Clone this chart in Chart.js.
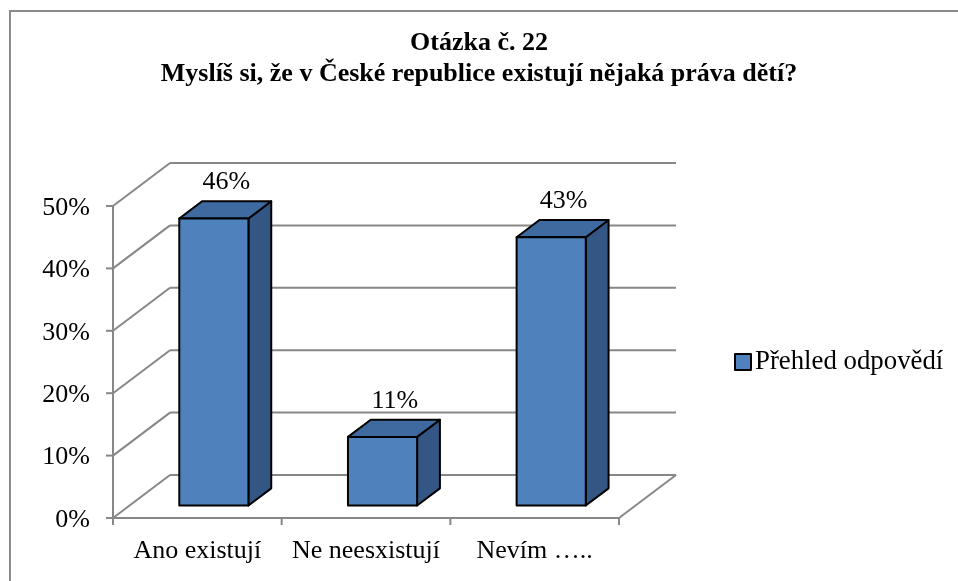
<!DOCTYPE html>
<html>
<head>
<meta charset="utf-8">
<script src="https://cdn.jsdelivr.net/npm/chart.js@4.4.1/dist/chart.umd.min.js"></script>
<style>
  html, body { margin: 0; padding: 0; background: #fff; }
  canvas { display: block; }
</style>
</head>
<body>
<canvas id="chart" width="958" height="581"></canvas>
<script>
var categories = ['Ano existují', 'Ne neesxistují', 'Nevím …..'];
var values = [46, 11, 43];
var seriesName = 'Přehled odpovědí';
var yTicks = [0, 10, 20, 30, 40, 50];
var titleLines = ['Otázka č. 22', 'Myslíš si, že v České republice existují nějaká práva dětí?'];

var FONT = "'Liberation Serif', 'Times New Roman', serif";
var GRID = '#878787';
var DEPTH_X = 57, DEPTH_Y = 43;      // depth of the floor, in px
var BAR_FRONT = 0.29, BAR_DEPTH = 0.4; // bar position inside the depth
var FRONT = '#4f81bd', TOP = '#3e6a9f', SIDE = '#335684';

function line(ctx, x1, y1, x2, y2) {
  ctx.beginPath();
  ctx.moveTo(x1, y1);
  ctx.lineTo(x2, y2);
  ctx.stroke();
}

function poly(ctx, pts) {
  ctx.beginPath();
  ctx.moveTo(pts[0][0], pts[0][1]);
  for (var i = 1; i < pts.length; i++) ctx.lineTo(pts[i][0], pts[i][1]);
  ctx.closePath();
  ctx.fill();
  ctx.stroke();
}

var box3d = {
  id: 'box3d',
  beforeDraw: function (chart) {
    var ctx = chart.ctx;
    ctx.save();
    ctx.strokeStyle = '#8a8a8a';
    ctx.lineWidth = 2;
    line(ctx, 10, 11, 10, chart.height + 5);
    line(ctx, 9, 11, chart.width + 5, 11);
    ctx.restore();
  },
  beforeDatasetsDraw: function (chart) {
    var ctx = chart.ctx, xs = chart.scales.x, ys = chart.scales.y;
    var L = chart.chartArea.left, R = chart.chartArea.right;
    var y0 = ys.getPixelForValue(0);
    ctx.save();
    ctx.strokeStyle = GRID;
    ctx.lineWidth = 2;
    yTicks.forEach(function (v) {
      var y = ys.getPixelForValue(v);
      line(ctx, L, y, L + DEPTH_X, y - DEPTH_Y);
      line(ctx, L + DEPTH_X, y - DEPTH_Y, R + DEPTH_X, y - DEPTH_Y);
      line(ctx, L - 7, y, L, y);
    });
    line(ctx, L, y0 + 1, L, ys.getPixelForValue(yTicks[yTicks.length - 1]) - 1);
    line(ctx, L, y0, R, y0);
    line(ctx, R, y0, R + DEPTH_X, y0 - DEPTH_Y);
    var n = categories.length;
    for (var i = 0; i <= n; i++) {
      var x = i === 0 ? L : (i === n ? R : (xs.getPixelForValue(i - 1) + xs.getPixelForValue(i)) / 2);
      line(ctx, x, y0, x, y0 + 7);
    }
    ctx.restore();
  },
  afterDatasetsDraw: function (chart) {
    var ctx = chart.ctx;
    var meta = chart.getDatasetMeta(0);
    var ox = BAR_FRONT * DEPTH_X, oy = BAR_FRONT * DEPTH_Y;
    var dx = BAR_DEPTH * DEPTH_X, dy = BAR_DEPTH * DEPTH_Y;
    ctx.save();
    ctx.strokeStyle = '#000';
    ctx.lineWidth = 2;
    ctx.lineJoin = 'round';
    meta.data.forEach(function (el, i) {
      var p = el.getProps(['x', 'y', 'base', 'width'], true);
      var x0 = p.x - p.width / 2 + ox, x1 = x0 + p.width;
      var top = p.y - oy, bot = p.base - oy;
      ctx.fillStyle = SIDE;
      poly(ctx, [[x1, top], [x1 + dx, top - dy], [x1 + dx, bot - dy], [x1, bot]]);
      ctx.fillStyle = TOP;
      poly(ctx, [[x0, top], [x0 + dx, top - dy], [x1 + dx, top - dy], [x1, top]]);
      ctx.fillStyle = FRONT;
      poly(ctx, [[x0, top], [x1, top], [x1, bot], [x0, bot]]);

      ctx.fillStyle = '#000';
      ctx.font = '26px ' + FONT;
      ctx.textAlign = 'center';
      ctx.textBaseline = 'alphabetic';
      ctx.fillText(values[i] + '%', (x0 + x1) / 2 + dx / 2 + 1, top - dy - 12);
    });

    // legend
    var lx = chart.chartArea.right + 116, ly = chart.scales.y.getPixelForValue(25);
    ctx.fillStyle = FRONT;
    ctx.fillRect(lx, ly - 8, 16, 16);
    ctx.strokeRect(lx, ly - 8, 16, 16);
    ctx.fillStyle = '#000';
    ctx.font = '26.8px ' + FONT;
    ctx.textAlign = 'left';
    ctx.textBaseline = 'middle';
    ctx.fillText(seriesName, lx + 20, ly);
    ctx.restore();
  }
};

new Chart(document.getElementById('chart'), {
  type: 'bar',
  data: {
    labels: categories,
    datasets: [{
      label: seriesName,
      data: values,
      backgroundColor: 'rgba(0,0,0,0)',
      borderWidth: 0,
      categoryPercentage: 1,
      barPercentage: 0.41
    }]
  },
  options: {
    responsive: false,
    animation: false,
    layout: { padding: 0 },
    plugins: {
      legend: { display: false },
      tooltip: { enabled: false },
      title: {
        display: true,
        text: titleLines,
        color: '#000',
        font: { family: FONT, size: 26, weight: 'bold', lineHeight: 31 / 26 },
        padding: { top: 28, bottom: 116 }
      }
    },
    scales: {
      x: {
        grid: { display: false, drawTicks: false },
        border: { display: false },
        ticks: { color: '#000', font: { family: FONT, size: 26 }, padding: 18 },
        afterFit: function (s) { s.height = 63; }
      },
      y: {
        min: 0,
        max: 50,
        grid: { display: false, drawTicks: false },
        border: { display: false },
        ticks: {
          color: '#000',
          font: { family: FONT, size: 26 },
          padding: 23,
          stepSize: 10,
          labelOffset: 2,
          callback: function (v) { return v + '%'; }
        },
        afterFit: function (s) { s.width = 113; }
      },
      y2: {
        position: 'right',
        grid: { display: false, drawTicks: false },
        border: { display: false },
        ticks: { display: false },
        afterFit: function (s) { s.width = 339; }
      }
    }
  },
  plugins: [box3d]
});
</script>
</body>
</html>
